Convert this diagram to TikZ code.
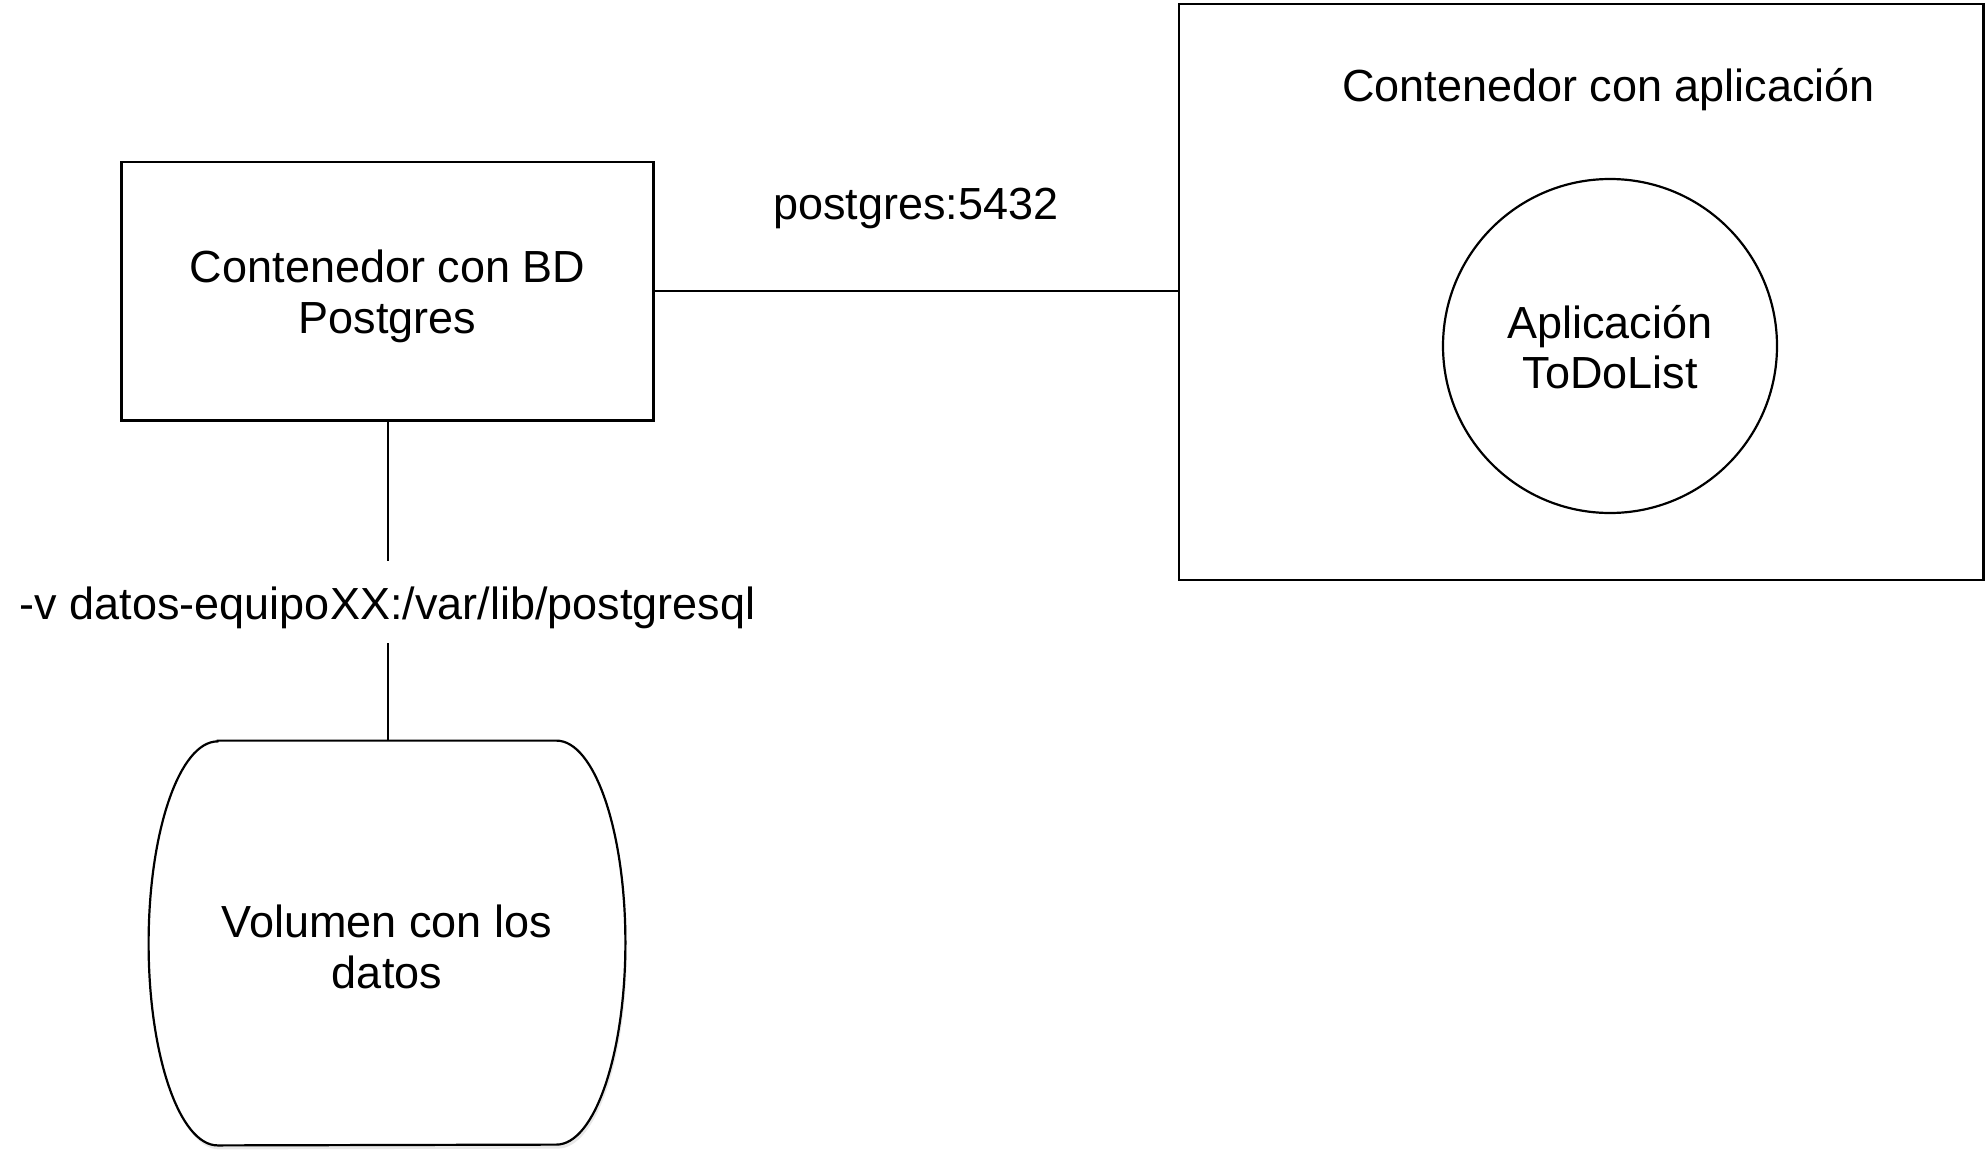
\documentclass[tikz,border=0pt]{standalone}
\usepackage{fontspec}
\setmainfont{Liberation Sans}
\usetikzlibrary{shadows}
\tikzset{
  txt/.style={font=\fontsize{22.5pt}{25.4pt}\selectfont, align=center, inner sep=0pt},
  boxshape/.style={draw, line width=1.2pt, rectangle, inner sep=0pt},
  circshape/.style={draw, line width=1.1pt, circle, inner sep=0pt},
  wire/.style={line width=1.1pt},
  barrel/.style={draw, line width=1.1pt, fill=white,
    drop shadow={shadow xshift=0.8pt, shadow yshift=-2pt, opacity=0.18}},
  edgelabel/.style={txt, fill=white, inner xsep=2pt, inner ysep=10pt,
    text height=19pt, text depth=2.2pt}
}
\begin{document}
\begin{tikzpicture}[x=0.5pt,y=-0.5pt]
\useasboundingbox (0,0) rectangle (1986,1161);
% containers
\node[boxshape, minimum width=266pt, minimum height=129.25pt] (db) at (387.6,291.3) {};
\node[txt] (dbtext) at ([yshift=-2.5pt]db.center) {Contenedor con BD\\Postgres};
\node[boxshape, minimum width=402.25pt, minimum height=288pt] (app) at (1581.25,291.9) {};
\node[txt] (apptitle) at (1608.6,90) {Contenedor con aplicaci\'on};
\node[circshape, minimum size=167pt] (todo) at (1610,346) {};
\node[txt] (todotext) at ([yshift=-0.6pt]todo.center) {Aplicaci\'on\\ToDoList};
% volume (barrel)
\node[txt, minimum width=238pt, minimum height=202pt] (vol) at (387,943) {};
\path[barrel] ([xshift=34.5pt]vol.north west) -- ([xshift=-34.5pt]vol.north east)
  arc[start angle=90, end angle=-90, x radius=34.5pt, y radius=101pt]
  -- ([xshift=34.5pt]vol.south west)
  arc[start angle=270, end angle=90, x radius=34.5pt, y radius=101pt] -- cycle;
\node[txt] (voltext) at ([yshift=-2pt]vol.center) {Volumen con los\\datos};
% connectors
\draw[wire] (db.east) -- (db.east -| app.west);
\node[txt] (port) at (916,208) {postgres:5432};
\draw[wire] (db.south) -- (db.south |- vol.north)
  node[edgelabel, pos=0.566] (mount) {-v datos-equipoXX:/var/lib/postgresql};
\end{tikzpicture}
\end{document}
